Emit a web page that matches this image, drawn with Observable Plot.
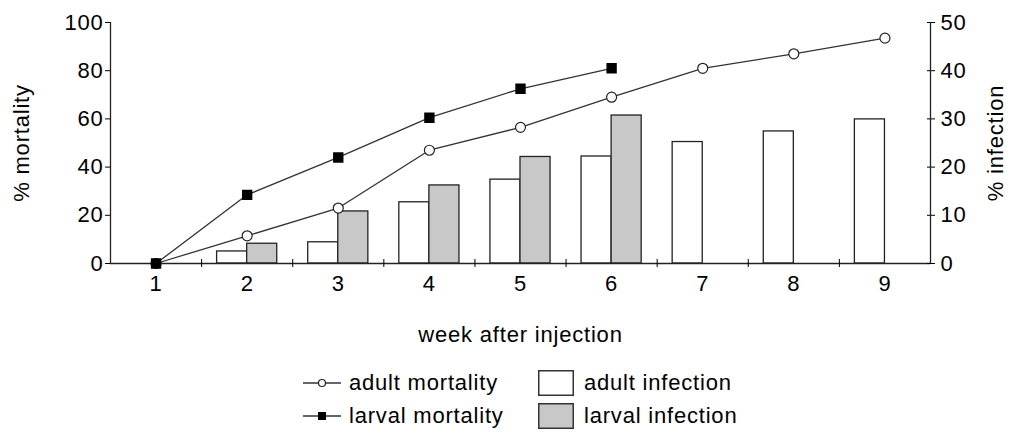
<!DOCTYPE html>
<html>
<head>
<meta charset="utf-8">
<script src="https://cdn.jsdelivr.net/npm/d3@7"></script>
<script src="https://cdn.jsdelivr.net/npm/@observablehq/plot@0.6"></script>
<style>
  html, body { margin: 0; padding: 0; background: #fff; }
  body { width: 1014px; height: 432px; overflow: hidden; font-family: "Liberation Sans", Arial, sans-serif; }
  #legend { position: relative; height: 77px; font-size: 22px; letter-spacing: 0.8px; color: #000; }
  .li { position: absolute; display: flex; align-items: center; height: 26px; }
  #chart svg text { letter-spacing: 0.8px; }
</style>
</head>
<body>
<div id="chart"></div>
<div id="legend"></div>
<script>
const weeks = [1, 2, 3, 4, 5, 6, 7, 8, 9];
const adultMortality = [0, 11.5, 23, 47, 56.5, 69, 81, 87, 93.5];
const larvalMortality = [0, 28.5, 44, 60.5, 72.5, 81];
const adultInfection = [null, 2.5, 4.4, 12.7, 17.4, 22.2, 25.2, 27.4, 29.9];
const larvalInfection = [null, 4.1, 10.8, 16.2, 22.1, 30.7];
const leftTicks = [0, 20, 40, 60, 80, 100];
const rightTicks = [0, 10, 20, 30, 40, 50];

const adultM = weeks.map((w, i) => ({week: w, v: adultMortality[i]}));
const larvalM = larvalMortality.map((v, i) => ({week: weeks[i], v}));
const adultI = weeks.map((w, i) => ({week: w, v: adultInfection[i]})).filter(d => d.v != null);
const larvalI = larvalInfection.map((v, i) => ({week: weeks[i], v})).filter(d => d.v != null);
const scale = 100 / 50; // right axis → left axis
const bw = 0.33;
const boundaries = weeks.slice(0, -1).map(w => w + 0.5);
const blank = () => "";

const chart = Plot.plot({
  width: 1014,
  height: 355,
  marginLeft: 110,
  marginRight: 84,
  marginTop: 22,
  marginBottom: 92,
  style: {fontFamily: "Liberation Sans, Arial, sans-serif", fontSize: "22px", color: "#000", background: "#fff"},
  x: {type: "linear", domain: [0.5, 9.5]},
  y: {domain: [0, 100]},
  marks: [
    Plot.rectY(adultI, {x1: d => d.week - bw, x2: d => d.week, y: d => d.v * scale, fill: "#fff", stroke: "#222", strokeWidth: 1.3}),
    Plot.rectY(larvalI, {x1: d => d.week, x2: d => d.week + bw, y: d => d.v * scale, fill: "#c8c8c8", stroke: "#222", strokeWidth: 1.3}),
    Plot.ruleY([0], {stroke: "#222", strokeWidth: 1.3}),
    Plot.axisX(weeks, {tickSize: 0, tickPadding: 12, label: "week after injection", labelAnchor: "center", labelArrow: "none", labelOffset: 78, tickFormat: d => d}),
    Plot.axisX(boundaries, {tickSize: 4, tickFormat: blank, label: null}),
    Plot.axisX(boundaries, {tickSize: -4, tickFormat: blank, label: null}),
    Plot.axisY(leftTicks, {anchor: "left", tickSize: 5, tickPadding: 2, label: "% mortality", labelAnchor: "center", labelArrow: "none", labelOffset: 97}),
    Plot.ruleX([0.5], {stroke: "#222", strokeWidth: 1.3}),
    Plot.axisY(rightTicks.map(d => d * scale), {anchor: "right", tickSize: 4, tickPadding: 6, tickFormat: d => d / scale, label: "% infection", labelAnchor: "center", labelArrow: "none", labelOffset: 72}),
    Plot.axisY(rightTicks.map(d => d * scale), {anchor: "right", tickSize: -4, tickFormat: blank, label: null}),
    Plot.ruleX([9.5], {stroke: "#222", strokeWidth: 1.3}),
    Plot.line(adultM, {x: "week", y: "v", stroke: "#333", strokeWidth: 1.3}),
    Plot.line(larvalM, {x: "week", y: "v", stroke: "#333", strokeWidth: 1.3}),
    Plot.dot(adultM, {x: "week", y: "v", r: 5, fill: "#fff", stroke: "#222", strokeWidth: 1.2}),
    Plot.dot(larvalM, {x: "week", y: "v", symbol: "square", r: 5, fill: "#000", stroke: "#000"})
  ]
});
document.getElementById("chart").appendChild(chart);

const legendItems = [
  {label: "adult mortality", kind: "circle", left: 303, top: 15},
  {label: "larval mortality", kind: "square", left: 303, top: 48},
  {label: "adult infection", kind: "rect", fill: "#fff", left: 538, top: 15},
  {label: "larval infection", kind: "rect", fill: "#c8c8c8", left: 538, top: 48}
];
const legend = document.getElementById("legend");
for (const it of legendItems) {
  const div = document.createElement("div");
  div.className = "li";
  div.style.left = it.left + "px";
  div.style.top = it.top + "px";
  let sym;
  if (it.kind === "rect") {
    sym = `<svg width="36" height="26" style="margin-right:10px"><rect x="0.75" y="0.75" width="34.5" height="24.5" fill="${it.fill}" stroke="#333" stroke-width="1.5"/></svg>`;
  } else if (it.kind === "circle") {
    sym = `<svg width="38" height="26" style="margin-right:8px"><line x1="0" x2="38" y1="13" y2="13" stroke="#333" stroke-width="1.3"/><circle cx="19" cy="13" r="3.5" fill="#fff" stroke="#222" stroke-width="1.2"/></svg>`;
  } else {
    sym = `<svg width="38" height="26" style="margin-right:8px"><line x1="0" x2="38" y1="13" y2="13" stroke="#333" stroke-width="1.3"/><rect x="15" y="9" width="8" height="8" fill="#000"/></svg>`;
  }
  div.innerHTML = sym + `<span>${it.label}</span>`;
  legend.appendChild(div);
}
</script>
</body>
</html>
